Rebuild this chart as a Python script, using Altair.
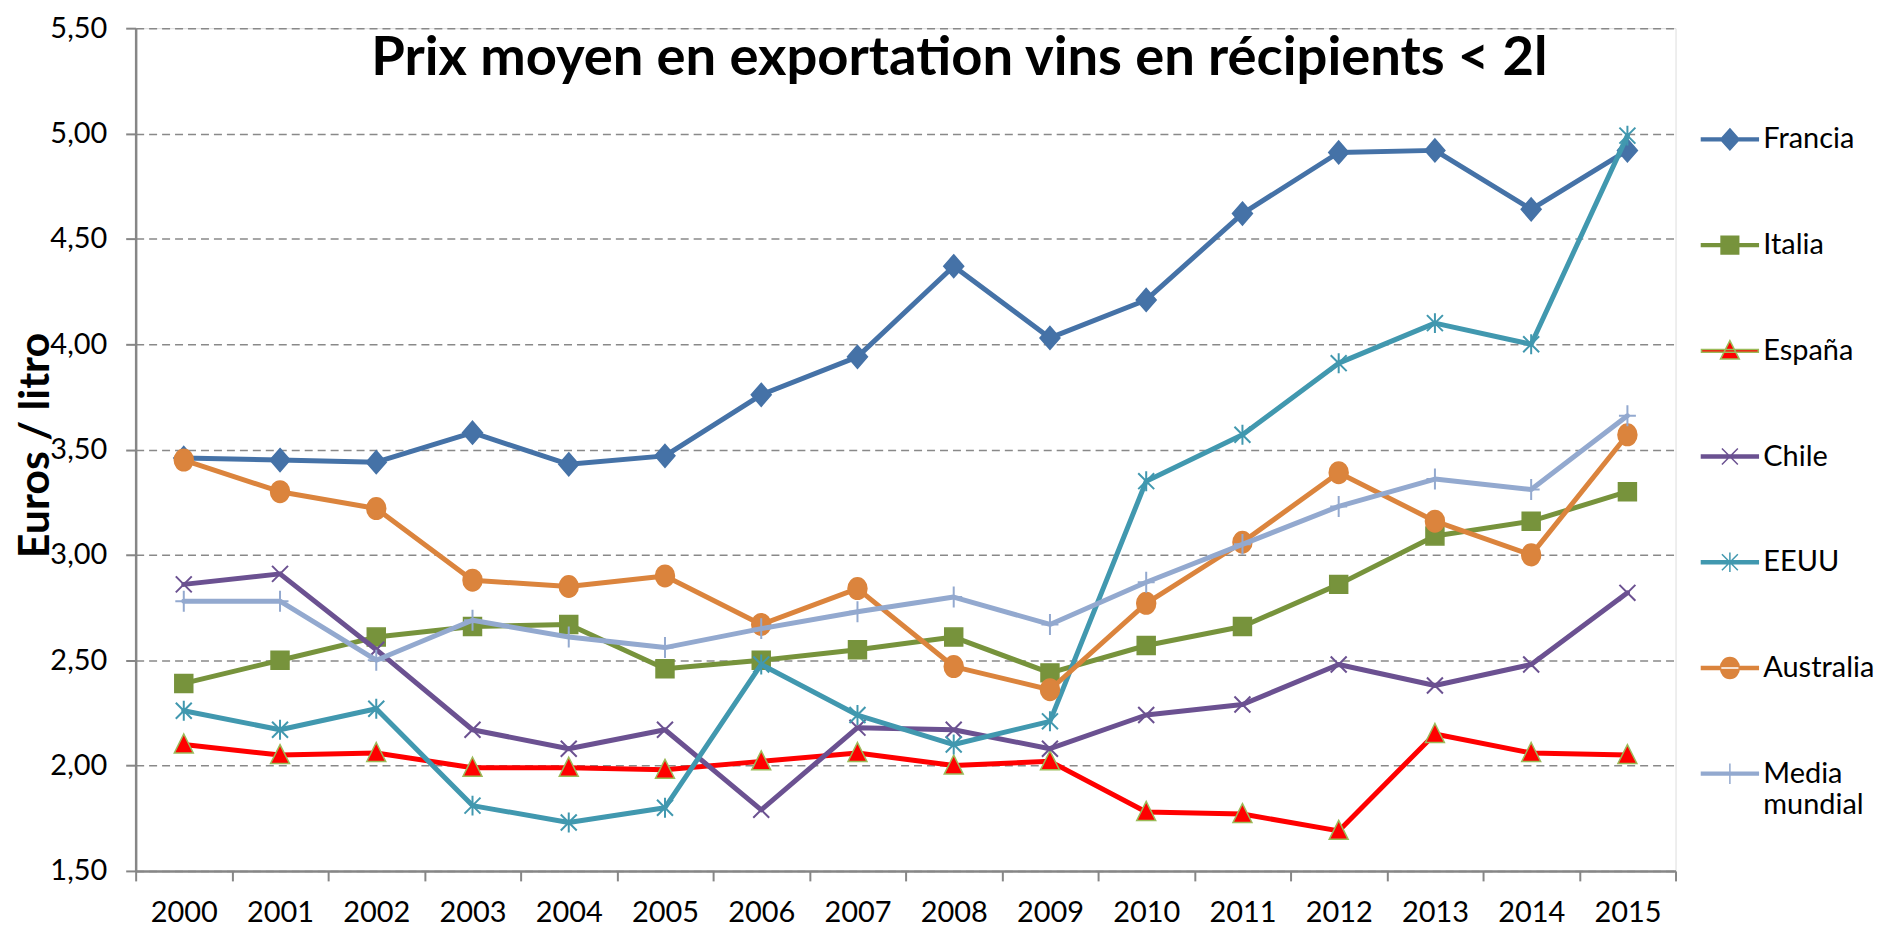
import altair as alt
import pandas as pd

years = [str(y) for y in range(2000, 2016)]
series = ["Francia", "Italia", "España", "Chile", "EEUU", "Australia", "Media mundial"]

francia = [3.46, 3.45, 3.44, 3.58, 3.43, 3.47, 3.76, 3.94, 4.37, 4.03, 4.21, 4.62, 4.91, 4.92, 4.64, 4.92]
italia = [2.39, 2.50, 2.61, 2.66, 2.67, 2.46, 2.50, 2.55, 2.61, 2.44, 2.57, 2.66, 2.86, 3.09, 3.16, 3.30]
espana = [2.10, 2.05, 2.06, 1.99, 1.99, 1.98, 2.02, 2.06, 2.00, 2.02, 1.78, 1.77, 1.69, 2.15, 2.06, 2.05]
chile = [2.86, 2.91, 2.55, 2.17, 2.08, 2.17, 1.79, 2.18, 2.17, 2.08, 2.24, 2.29, 2.48, 2.38, 2.48, 2.82]
eeuu = [2.26, 2.17, 2.27, 1.81, 1.73, 1.80, 2.48, 2.24, 2.10, 2.21, 3.35, 3.57, 3.91, 4.10, 4.00, 4.99]
australia = [3.45, 3.30, 3.22, 2.88, 2.85, 2.90, 2.67, 2.84, 2.47, 2.36, 2.77, 3.06, 3.39, 3.16, 3.00, 3.57]
media = [2.78, 2.78, 2.50, 2.69, 2.61, 2.56, 2.65, 2.73, 2.80, 2.67, 2.87, 3.05, 3.23, 3.36, 3.31, 3.66]

values = [francia, italia, espana, chile, eeuu, australia, media]
y_ticks = [1.5, 2.0, 2.5, 3.0, 3.5, 4.0, 4.5, 5.0, 5.5]

line_colors = ["#4572A7", "#77933C", "#FF0000", "#6B5191", "#4198AF", "#DB843D", "#93A9CF"]
fill_colors = ["#4572A7", "#77933C", "#FF0000", "#6B5191", "#4198AF", "#DB843D", "#93A9CF"]
stroke_colors = ["#4572A7", "#77933C", "#9BBB59", "#6B5191", "#4198AF", "#DB843D", "#93A9CF"]

# marker shapes in the plot (unit = 10 px)
plot_shapes = [
    "M0,-1.15L1,0L0,1.15L-1,0Z",
    "M-0.9,-0.9H0.9V0.9H-0.9Z",
    "M0,-1.05L0.95,0.85H-0.95Z",
    "M-0.8,-0.8L0.8,0.8M-0.8,0.8L0.8,-0.8",
    "M-0.8,-0.8L0.8,0.8M-0.8,0.8L0.8,-0.8M0,-1.0V1.0",
    "M-0.95,0A0.95,1.08 0 1,0 0.95,0A0.95,1.08 0 1,0 -0.95,0Z",
    "M-0.85,0H0.85M0,-1.05V1.05",
]
marker_filled = [True, True, True, False, False, True, False]

# legend symbols: line segment + marker (unit = 28.5 px)
lr = "M-1,-0.05H1V0.05H-1Z"
legend_shapes = [
    lr + "M0,-0.37L0.33,0L0,0.37L-0.33,0Z",
    lr + "M-0.31,-0.31H0.31V0.31H-0.31Z",
    lr + "M0,-0.36L0.33,0.29H-0.33Z",
    lr + "M-0.28,-0.28L0.28,0.28M-0.28,0.28L0.28,-0.28",
    lr + "M-0.28,-0.28L0.28,0.28M-0.28,0.28L0.28,-0.28M0,-0.34V0.34",
    lr + "M-0.33,0A0.33,0.37 0 1,0 0.33,0A0.33,0.37 0 1,0 -0.33,0Z",
    lr + "M0,-0.36V0.36",
]

rows = []
for s, vals in zip(series, values):
    for yr, v in zip(years, vals):
        rows.append({"year": yr, "serie": s, "value": v})
df = pd.DataFrame(rows)

FONT = "Lato"
GRID = "#898989"
AXIS = "#868686"

x_enc = alt.X(
    "year:O",
    scale=alt.Scale(type="band", paddingInner=0, paddingOuter=0, domain=years),
    axis=alt.Axis(
        title=None, labelAngle=0, tickBand="extent", grid=False,
        domainColor=AXIS, domainWidth=2.5, tickColor=AXIS, tickWidth=2, tickSize=10,
        labelFont=FONT, labelFontSize=29, labelColor="black", labelPadding=18,
    ),
)
y_enc = alt.Y(
    "value:Q",
    scale=alt.Scale(domain=[1.5, 5.5], zero=False, nice=False),
    axis=alt.Axis(
        title="Euros / litro", values=y_ticks,
        labelExpr="replace(format(datum.value, '.2f'), '.', ',')",
        grid=True, gridColor=GRID, gridDash=[8, 5], gridWidth=1.5,
        domainColor=AXIS, domainWidth=2.5, tickColor=AXIS, tickWidth=2, tickSize=10,
        labelFont=FONT, labelFontSize=29, labelColor="black", labelPadding=19,
        titleFont=FONT, titleFontSize=43, titleFontWeight="bold", titleColor="black",
        titleAngle=270, titleAlign="center", titleBaseline="middle", titleX=-100, titleY=418,
    ),
)

base = alt.Chart(df)
layers = []
for i, s in enumerate(series):
    sub = base.transform_filter(alt.datum.serie == s)
    layers.append(
        sub.mark_line(color=line_colors[i], strokeWidth=5, strokeJoin="round", strokeCap="round")
        .encode(x=x_enc, y=y_enc)
    )
    if marker_filled[i]:
        pm = sub.mark_point(shape=plot_shapes[i], size=400, filled=True, fill=fill_colors[i],
                            stroke=stroke_colors[i], strokeWidth=1.5, opacity=1)
    else:
        pm = sub.mark_point(shape=plot_shapes[i], size=400, filled=False,
                            stroke=stroke_colors[i], strokeWidth=2, opacity=1)
    layers.append(pm.encode(x=x_enc, y=y_enc))

leg = alt.Legend(
    title=None, orient="none", legendX=1569, legendY=82,
    symbolSize=3249, symbolStrokeWidth=1.5,
    labelFont=FONT, labelFontSize=29, labelColor="black", labelOffset=4, labelLimit=400,
    rowPadding=61,
    labelExpr="datum.label == 'Media mundial' ? ['Media', 'mundial'] : datum.label",
)
legend_layer = base.transform_filter("datum.value < 0").mark_point(
    filled=True, opacity=1, strokeWidth=1.5
).encode(
    x=x_enc, y=y_enc,
    shape=alt.Shape("serie:N", scale=alt.Scale(domain=series, range=legend_shapes), legend=leg),
    fill=alt.Fill("serie:N", scale=alt.Scale(domain=series, range=fill_colors), legend=leg),
    stroke=alt.Stroke("serie:N", scale=alt.Scale(domain=series, range=stroke_colors), legend=leg),
)
layers.append(legend_layer)

chart = alt.layer(*layers).properties(
    width=1544, height=845,
    autosize=alt.AutoSizeParams(type="none"),
    padding={"left": 128, "top": 19, "right": 200, "bottom": 56},
    title=alt.TitleParams(
        "Prix moyen en exportation vins en récipients < 2l",
        font=FONT, fontSize=54.5, fontWeight="bold", color="black",
        anchor="middle", baseline="alphabetic", dx=54, offset=-70, dy=45, frame="group",
    ),
).configure_view(stroke=None).configure(background="white")

chart.save("out.html", embed_options={"renderer": "svg", "actions": False})
